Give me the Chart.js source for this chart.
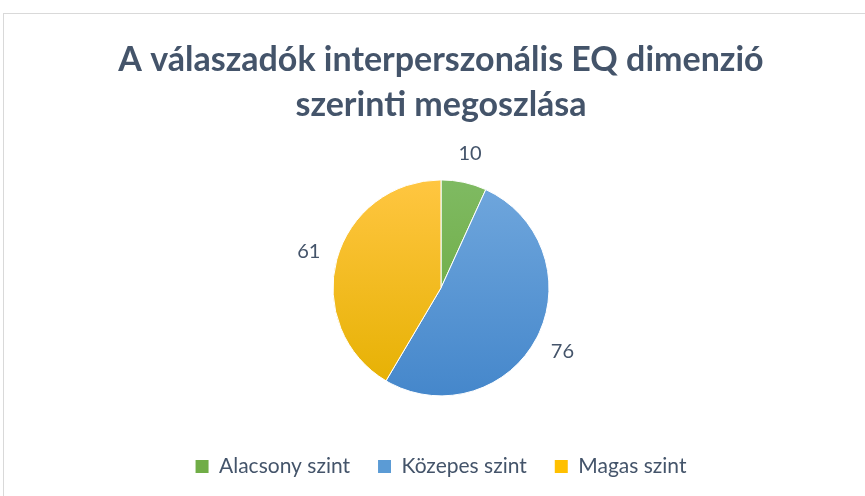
<!DOCTYPE html>
<html>
<head>
<meta charset="utf-8">
<script src="https://cdn.jsdelivr.net/npm/chart.js@4.4.1/dist/chart.umd.min.js"></script>
<style>
  html, body { margin: 0; padding: 0; background: #fff; overflow: hidden; }
  #frame { position: absolute; left: 3px; top: 13px; width: 900px; height: 600px; border: 1px solid #d9d9d9; }
  #wrap { position: absolute; left: 0; top: 0; width: 865px; height: 496px; }
</style>
</head>
<body>
<div id="frame"></div>
<div id="wrap"><canvas id="chart"></canvas></div>
<script>
const categories = ["Alacsony szint", "Közepes szint", "Magas szint"];
const counts = [10, 76, 61];
const chartTitle = ["A válaszadók interperszonális EQ dimenzió", "szerinti megoszlása"];

// colours: top and bottom of each slice gradient
const topColors = ["#7fba62", "#70a7dd", "#ffc641"];
const bottomColors = ["#67a637", "#4587cb", "#e5b000"];
const flatColors = ["#70ad47", "#5b9bd5", "#ffc000"];

const textColor = "#44546a";
const fontFamily = "Lato, 'Open Sans', sans-serif";

function sliceFill(ctx) {
  const chart = ctx.chart;
  const area = chart.chartArea;
  if (!area) return flatColors[ctx.dataIndex];
  const cy = (area.top + area.bottom) / 2;
  const g = chart.ctx.createLinearGradient(0, cy - 108, 0, cy + 108);
  g.addColorStop(0, topColors[ctx.dataIndex]);
  g.addColorStop(1, bottomColors[ctx.dataIndex]);
  return g;
}

// value labels outside the slices
const outsideLabels = {
  id: "outsideLabels",
  afterDatasetsDraw(chart) {
    const ctx = chart.ctx;
    const meta = chart.getDatasetMeta(0);
    ctx.save();
    ctx.font = "20px " + fontFamily;
    ctx.fillStyle = textColor;
    ctx.textAlign = "center";
    ctx.textBaseline = "middle";
    meta.data.forEach((arc, i) => {
      const p = arc.getProps(["x", "y", "startAngle", "endAngle", "outerRadius"], true);
      const mid = (p.startAngle + p.endAngle) / 2;
      const r = p.outerRadius + 29;
      ctx.fillText(String(counts[i]), p.x + Math.cos(mid) * r, p.y + Math.sin(mid) * r);
    });
    ctx.restore();
  }
};

new Chart(document.getElementById("chart"), {
  type: "pie",
  data: {
    labels: categories,
    datasets: [{
      data: counts,
      backgroundColor: sliceFill,
      borderColor: "#ffffff",
      borderWidth: 1,
      radius: 108
    }]
  },
  options: {
    responsive: true,
    maintainAspectRatio: false,
    animation: false,
    layout: { padding: { left: 17, right: 0, top: 0, bottom: 9 } },
    plugins: {
      title: {
        display: true,
        text: chartTitle,
        color: textColor,
        font: { family: fontFamily, size: 34, weight: "bold", lineHeight: 1.32 },
        padding: { top: 38, bottom: 20 }
      },
      legend: {
        position: "bottom",
        labels: {
          color: textColor,
          font: { family: fontFamily, size: 21 },
          boxWidth: 13,
          boxHeight: 13,
          padding: 28,
          generateLabels(chart) {
            return categories.map((c, i) => ({
              text: c,
              fillStyle: flatColors[i],
              strokeStyle: flatColors[i],
              lineWidth: 0,
              fontColor: textColor,
              index: i
            }));
          }
        }
      },
      tooltip: { enabled: false }
    }
  },
  plugins: [outsideLabels]
});
</script>
</body>
</html>
